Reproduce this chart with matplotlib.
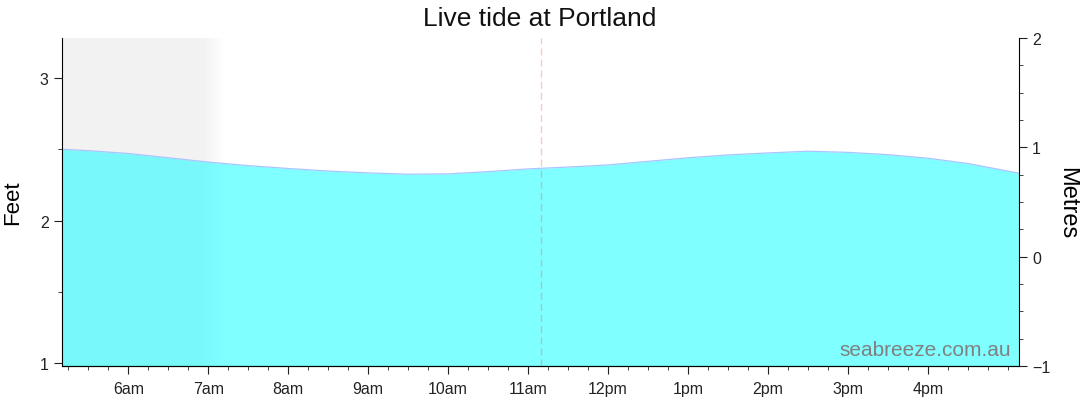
import matplotlib.pyplot as plt
import numpy as np

plt.rcParams['font.family'] = ['Liberation Sans', 'DejaVu Sans']

# tide height (feet), time in decimal hours
hours = [5.17, 5.5, 6.0, 6.5, 7.0, 7.5, 8.0, 8.5, 9.0, 9.5, 10.0, 10.5, 11.0, 11.5,
         12.0, 12.5, 13.0, 13.5, 14.0, 14.5, 15.0, 15.5, 16.0, 16.5, 17.14]
feet = [2.50, 2.49, 2.47, 2.44, 2.41, 2.385, 2.365, 2.347, 2.334, 2.325, 2.327, 2.343,
        2.362, 2.375, 2.39, 2.415, 2.44, 2.46, 2.474, 2.486, 2.478, 2.462, 2.437, 2.40, 2.332]

tick_hours = [6, 7, 8, 9, 10, 11, 12, 13, 14, 15, 16]
tick_labels = ['6am', '7am', '8am', '9am', '10am', '11am', '12pm', '1pm', '2pm', '3pm', '4pm']
now_hour = 11.165
dark_end = 6.92
fade_end = 7.2

x0, x1 = 5.17, 17.14

fig = plt.figure(figsize=(10.8, 4.14), dpi=100)
ax = fig.add_axes([62 / 1080, 1 - 367 / 414, (1019 - 62) / 1080, (367 - 39) / 414])

# night shading with fade
ax.axvspan(x0, dark_end, color='#f2f2f2', lw=0, zorder=0)
grad = np.linspace(0, 1, 200).reshape(1, -1)
ax.imshow(grad, extent=[dark_end, fade_end, 0.98, 3.28], aspect='auto',
          cmap=plt.matplotlib.colors.LinearSegmentedColormap.from_list('f', ['#f2f2f2', '#ffffff']),
          zorder=0.5, interpolation='bilinear')

ax.fill_between(hours, feet, 0, color=(0, 1, 1, 0.5), lw=0, zorder=1)
ax.plot(hours, feet, color='#a9c4ff', lw=0.9, zorder=2)
ax.axvline(now_hour, color=(0.9, 0.3, 0.3, 0.3), lw=1, dashes=(5, 3), zorder=3)

ax.set_xlim(x0, x1)
ax.set_ylim(0.98, 3.28)
ax.set_xticks(tick_hours)
ax.set_xticklabels(tick_labels)
ax.set_xticks(np.arange(5.25, 17.15, 0.25), minor=True)
ax.set_yticks([1, 2, 3])
ax.set_yticks([1.5, 2.5], minor=True)
ax.tick_params(axis='both', which='major', length=6, color='#222', labelsize=11.5, labelcolor='#222')
ax.tick_params(axis='both', which='minor', length=3, color='#222')
ax.tick_params(axis='x', which='major', pad=5)
ax.spines['top'].set_visible(False)
ax.spines['right'].set_visible(False)
ax.set_ylabel('Feet', fontsize=16, labelpad=12)

ax2 = ax.twinx()
ax2.set_ylim(-1, 2)
ax2.set_yticks([-1, 0, 1, 2])
ax2.set_yticks(np.arange(-1, 2.01, 0.25), minor=True)
ax2.tick_params(axis='y', which='major', length=6, color='#222', labelsize=11.5, labelcolor='#222')
ax2.tick_params(axis='y', which='minor', length=3, color='#222')
ax2.spines['top'].set_visible(False)
ax2.spines['left'].set_visible(False)
ax2.set_ylabel('Metres', fontsize=17, rotation=270, labelpad=20)

fig.text(0.5, 0.955, 'Live tide at Portland', ha='center', va='center', fontsize=19, color='#111')
ax.text(0.992, 0.022, 'seabreeze.com.au', transform=ax.transAxes, ha='right', va='bottom',
        fontsize=15, color='#808080', zorder=5)

fig.savefig('out.png', dpi=100)
